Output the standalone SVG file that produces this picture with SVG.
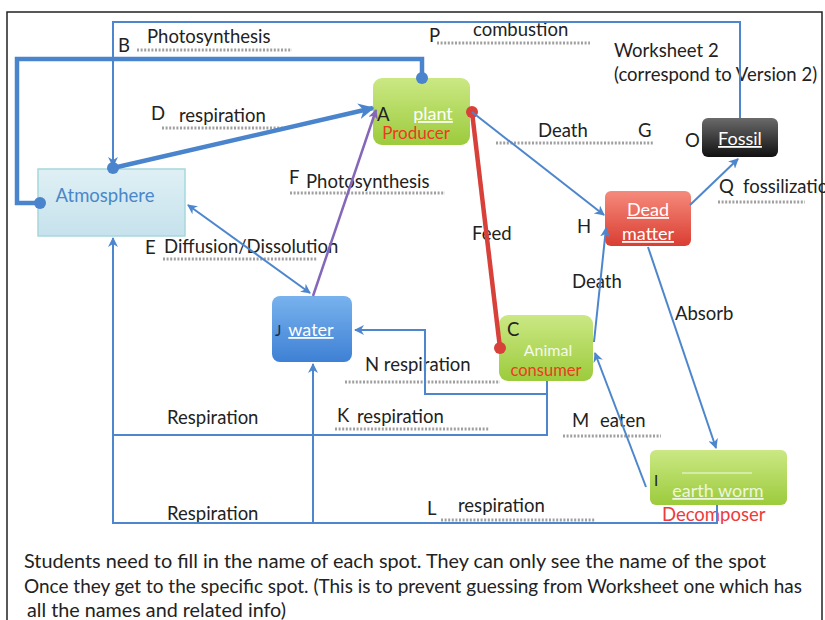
<svg xmlns="http://www.w3.org/2000/svg" width="825" height="620" viewBox="0 0 825 620">
<style>
text{font-family:Lato,"Open Sans","Liberation Sans",sans-serif;font-size:18.5px;fill:#222}
.c{stroke:#4d86cc;fill:none;stroke-width:2}
.thk{stroke:#4a84cc;fill:none;stroke-width:4.5}
.dot{stroke:#a0a0a0;stroke-width:3;stroke-dasharray:2 1.6;fill:none}
.wt{fill:#fff;text-decoration:underline;text-anchor:middle;font-size:18px}
.mid{text-anchor:middle}
</style>
<defs>
<marker id="ar" viewBox="0 0 10 10" refX="9" refY="5" markerWidth="10" markerHeight="10" markerUnits="userSpaceOnUse" orient="auto-start-reverse"><path d="M0,0 L10,5 L0,10 L3,5z" fill="#4d86cc"/></marker>
<marker id="arB" viewBox="0 0 10 10" refX="9" refY="5" markerWidth="16" markerHeight="16" markerUnits="userSpaceOnUse" orient="auto"><path d="M0,0 L10,5 L0,10 L3,5z" fill="#4a84cc"/></marker>
<marker id="arP" viewBox="0 0 10 10" refX="9" refY="5" markerWidth="10" markerHeight="10" markerUnits="userSpaceOnUse" orient="auto"><path d="M0,0 L10,5 L0,10 L3,5z" fill="#8467b8"/></marker>
<marker id="dB" viewBox="0 0 10 10" refX="5" refY="5" markerWidth="12" markerHeight="12" markerUnits="userSpaceOnUse"><circle cx="5" cy="5" r="5" fill="#4a84cc"/></marker>
<marker id="dR" viewBox="0 0 10 10" refX="5" refY="5" markerWidth="12" markerHeight="12" markerUnits="userSpaceOnUse"><circle cx="5" cy="5" r="5" fill="#d8403a"/></marker>
<linearGradient id="gG" x1="0" y1="0" x2="0" y2="1"><stop offset="0" stop-color="#cbe884"/><stop offset="1" stop-color="#9ccb3c"/></linearGradient>
<linearGradient id="gB" x1="0" y1="0" x2="0" y2="1"><stop offset="0" stop-color="#78b2ee"/><stop offset="1" stop-color="#3e80d4"/></linearGradient>
<linearGradient id="gR" x1="0" y1="0" x2="0" y2="1"><stop offset="0" stop-color="#f58a7c"/><stop offset="1" stop-color="#da3e32"/></linearGradient>
<linearGradient id="gK" x1="0" y1="0" x2="0" y2="1"><stop offset="0" stop-color="#6a6a6a"/><stop offset="1" stop-color="#111"/></linearGradient>
<linearGradient id="gA" x1="0" y1="0" x2="0" y2="1"><stop offset="0" stop-color="#dff0f5"/><stop offset="1" stop-color="#c6e2ec"/></linearGradient>
</defs>
<rect x="0" y="0" width="825" height="620" fill="#fff"/>
<rect x="7" y="12" width="815" height="620" fill="none" stroke="#222" stroke-width="1.5"/>

<g id="labels">
<text x="118" y="52">B</text>
<text x="147" y="43">Photosynthesis</text>
<line class="dot" x1="137" y1="50" x2="292" y2="50"/>
<text x="429" y="42">P</text>
<text x="473" y="36">combustion</text>
<line class="dot" x1="437" y1="43" x2="590" y2="43"/>
<text x="614" y="57">Worksheet 2</text>
<text x="614" y="81">(correspond to Version 2)</text>
<text x="151" y="120">D</text>
<text x="179" y="122">respiration</text>
<line class="dot" x1="162" y1="128" x2="285" y2="128"/>
<text x="289" y="184">F</text>
<text x="306" y="188">Photosynthesis</text>
<line class="dot" x1="290" y1="193" x2="445" y2="193"/>
<text x="145" y="254">E</text>
<text x="164" y="253">Diffusion/Dissolution</text>
<line class="dot" x1="163" y1="259" x2="317" y2="259"/>
<text x="538" y="137">Death</text>
<text x="638" y="137">G</text>
<line class="dot" x1="496" y1="143" x2="653" y2="143"/>
<text x="719" y="193">Q</text>
<text x="743" y="193">fossilization</text>
<line class="dot" x1="718" y1="202" x2="805" y2="202"/>
<text x="577" y="233">H</text>
<text x="472" y="240">Feed</text>
<text x="572" y="288">Death</text>
<text x="675" y="320">Absorb</text>
<text x="365" y="371">N respiration</text>
<line class="dot" x1="345" y1="382" x2="500" y2="382"/>
<text x="167" y="424">Respiration</text>
<text x="337" y="422">K</text>
<text x="357" y="423">respiration</text>
<line class="dot" x1="335" y1="429" x2="489" y2="429"/>
<text x="572" y="427">M</text>
<text x="600" y="427">eaten</text>
<line class="dot" x1="563" y1="436" x2="661" y2="436"/>
<text x="167" y="520">Respiration</text>
<text x="427" y="515">L</text>
<text x="458" y="512">respiration</text>
<line class="dot" x1="441" y1="520" x2="595" y2="520"/>
</g>

<g id="atmosphere">
<rect x="38" y="169" width="147" height="67" fill="url(#gA)" stroke="#a6d8dc" stroke-width="1.5"/>
<text x="105" y="202" class="mid" style="fill:#4a87c9">Atmosphere</text>
</g>
<g id="plant">
<rect x="373" y="78" width="97" height="67" rx="9" fill="url(#gG)"/>
<text x="377" y="121">A</text>
<text x="433" y="120" class="wt">plant</text>
<text x="416" y="139" class="mid" style="fill:#ee3a20;font-size:17px">Producer</text>
</g>
<g id="fossil">
<text x="685" y="147">O</text>
<rect x="702" y="118" width="76" height="39" rx="6" fill="url(#gK)"/>
<text x="740" y="145" class="wt">Fossil</text>
</g>
<g id="dead">
<rect x="605" y="191" width="86" height="55" rx="6" fill="url(#gR)"/>
<text x="648" y="216" class="wt">Dead</text>
<text x="648" y="240" class="wt">matter</text>
</g>
<g id="water">
<rect x="272" y="296" width="80" height="66" rx="8" fill="url(#gB)"/>
<text x="275" y="336" style="fill:#1b2a4a;font-size:15px">J</text>
<text x="311" y="336" class="wt">water</text>
</g>
<g id="consumer">
<rect x="499" y="315" width="94" height="66" rx="9" fill="url(#gG)"/>
<text x="507" y="336">C</text>
<text x="548" y="356" class="mid" style="fill:#f4f9e8;font-size:16px">Animal</text>
<text x="546" y="376" class="mid" style="fill:#ee3a20;font-size:16.5px">consumer</text>
</g>
<g id="decomposer">
<rect x="650" y="450" width="137" height="55" rx="6" fill="url(#gG)"/>
<line x1="682" y1="473" x2="752" y2="473" stroke="#f4f9e8" stroke-width="1"/>
<text x="654" y="486" style="font-size:15px">I</text>
<text x="718" y="497" class="wt" style="fill:#eef6dc">earth worm</text>
<text x="662" y="521" style="fill:#ee3a3a">Decomposer</text>
</g>

<g id="connectors">
<polyline class="c" points="740,118 740,22 113,22 113,166" marker-end="url(#ar)"/>
<polyline class="thk" points="40,203 17,203 17,59 422,59 422,78" marker-start="url(#dB)" marker-end="url(#dB)"/>
<line class="thk" x1="113" y1="168" x2="373" y2="108" stroke-width="4" marker-start="url(#dB)" marker-end="url(#arB)"/>
<line x1="313" y1="296" x2="376" y2="110" stroke="#8467b8" stroke-width="2.5" marker-end="url(#arP)"/>
<line class="c" x1="188" y1="205" x2="310" y2="293" stroke-width="3" marker-start="url(#ar)" marker-end="url(#ar)"/>
<line x1="472" y1="112" x2="500" y2="348" stroke="#d8403a" stroke-width="4.5" marker-start="url(#dR)" marker-end="url(#dR)"/>
<line class="c" x1="472" y1="112" x2="604" y2="215" marker-end="url(#ar)"/>
<line class="c" x1="594" y1="342" x2="606" y2="228" marker-end="url(#ar)"/>
<line class="c" x1="648" y1="247" x2="716" y2="448" marker-end="url(#ar)"/>
<line class="c" x1="690" y1="205" x2="738" y2="159" marker-end="url(#ar)"/>
<line class="c" x1="646" y1="487" x2="595" y2="353" marker-end="url(#ar)"/>
<polyline class="c" points="547,381 547,394 425,394 425,330 355,330" marker-end="url(#ar)"/>
<polyline class="c" points="547,381 547,435 113,435"/>
<polyline class="c" points="717,505 717,523 113,523 113,238" marker-end="url(#ar)"/>
<polyline class="c" points="313,523 313,364" marker-end="url(#ar)"/>
</g>

<g id="notes">
<text x="24" y="568" textLength="742" lengthAdjust="spacingAndGlyphs">Students need to fill in the name of each spot. They can only see the name of the spot</text>
<text x="24" y="593" textLength="778" lengthAdjust="spacingAndGlyphs">Once they get to the specific spot. (This is to prevent guessing from Worksheet one which has</text>
<text x="27" y="617" textLength="259" lengthAdjust="spacingAndGlyphs">all the names and related info)</text>
</g>
</svg>
